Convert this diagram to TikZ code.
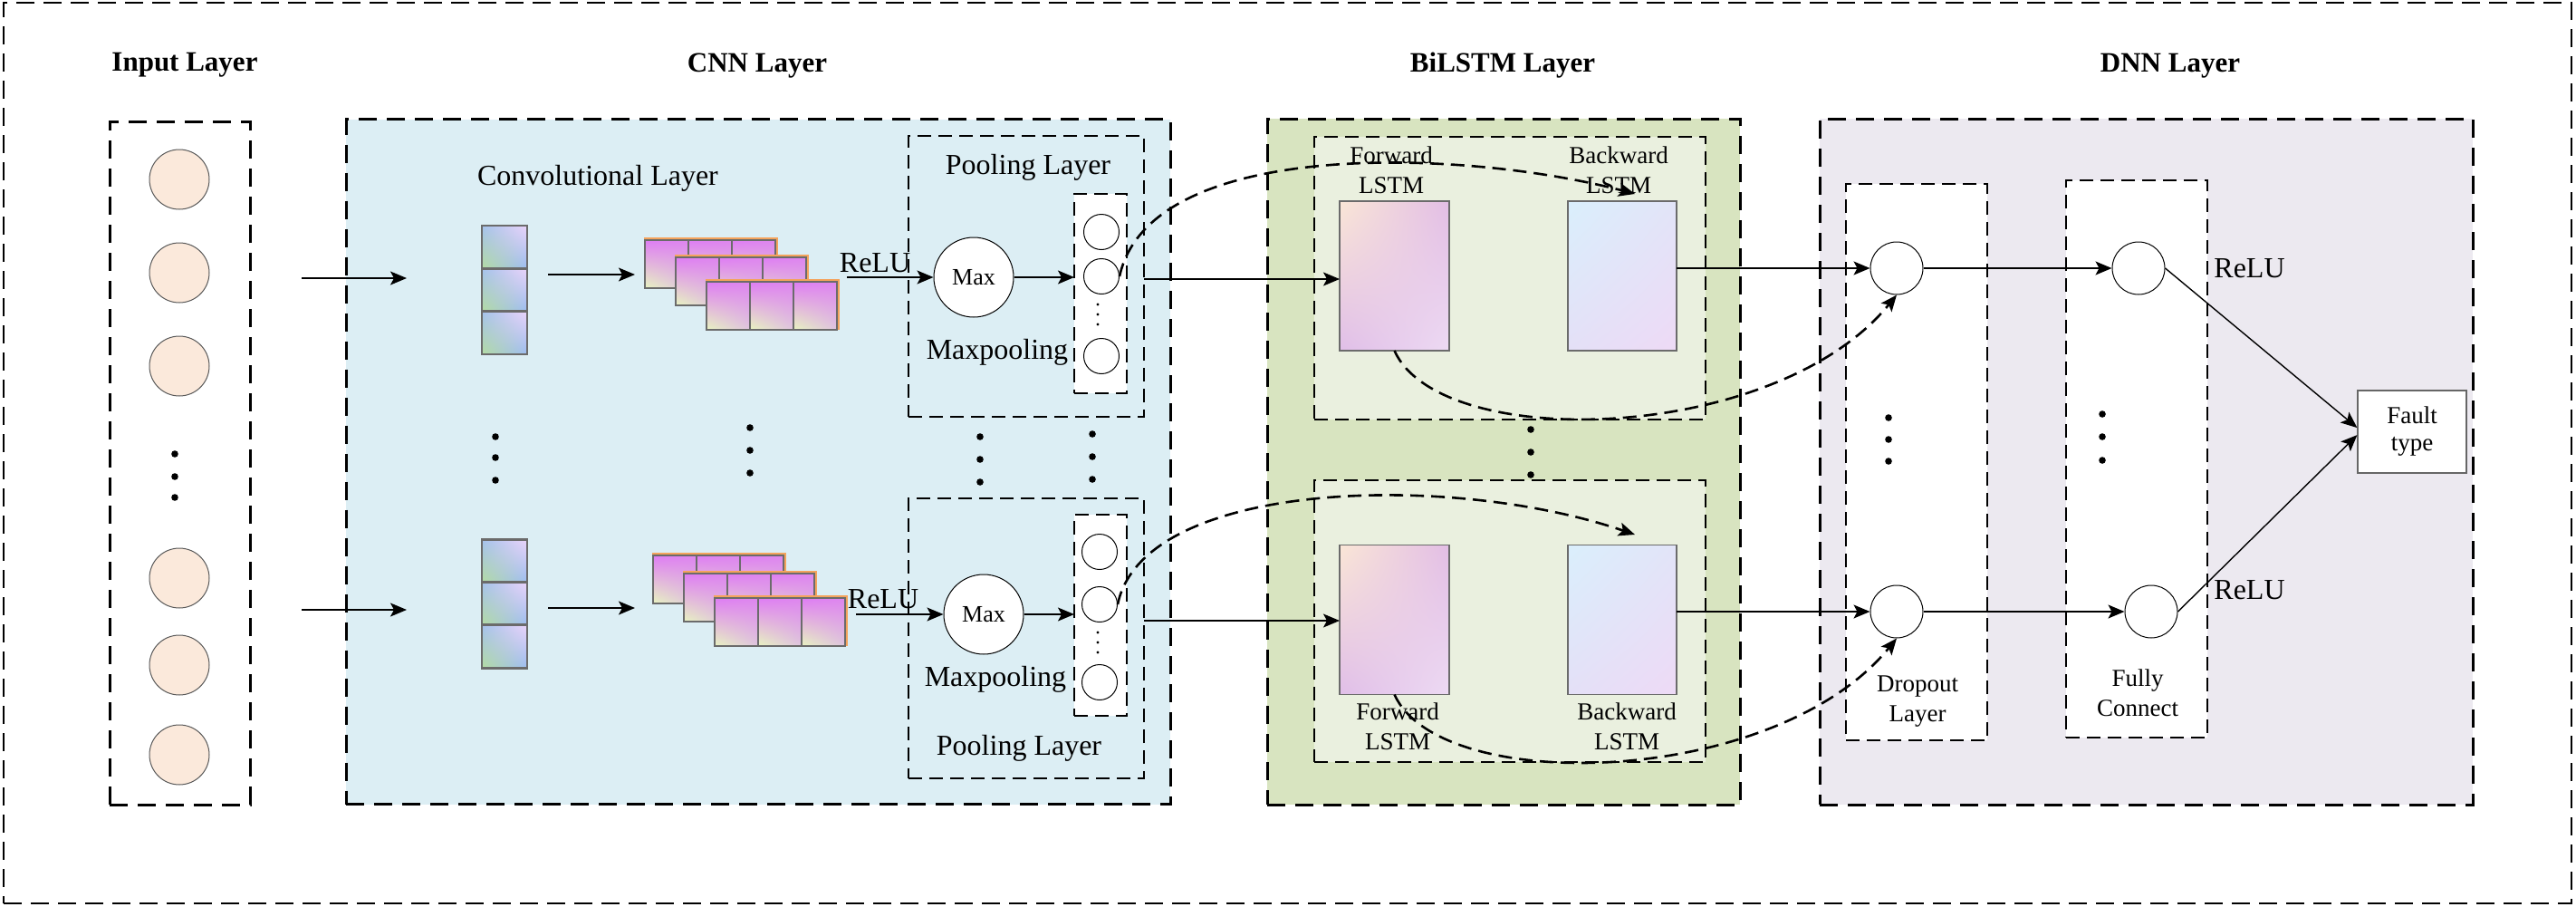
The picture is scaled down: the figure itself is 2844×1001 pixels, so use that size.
\documentclass[tikz,border=0pt]{standalone}
\usepackage{fontspec}
\setmainfont{Liberation Serif}
\usetikzlibrary{arrows.meta,shapes.geometric,shadings}
\definecolor{cnnbg}{HTML}{DCEEF4}
\definecolor{lstmouter}{HTML}{D8E4C0}
\definecolor{lstminner}{HTML}{EAF0DF}
\definecolor{dnnbg}{HTML}{ECE9F0}
\definecolor{inputfill}{HTML}{FBE9DB}
\definecolor{orangec}{HTML}{F4A35C}
\definecolor{cellgray}{HTML}{6B6B6B}
\definecolor{cvUL}{HTML}{A4C2EC}
\definecolor{cvUR}{HTML}{EBD3FA}
\definecolor{cvLL}{HTML}{B4DCA2}
\definecolor{cvLR}{HTML}{9CBCF2}
\definecolor{fmUL}{HTML}{DE7CF4}
\definecolor{fmUR}{HTML}{DE86EE}
\definecolor{fmLL}{HTML}{E8F4C0}
\definecolor{fmLR}{HTML}{DEC4DE}
\definecolor{fwUL}{HTML}{FAE6D6}
\definecolor{fwUR}{HTML}{E2BDE5}
\definecolor{fwLL}{HTML}{E0BEE8}
\definecolor{fwLR}{HTML}{EDDAF3}
\definecolor{bwUL}{HTML}{DAEFFC}
\definecolor{bwUR}{HTML}{E2E4F8}
\definecolor{bwLL}{HTML}{E4E0F7}
\definecolor{bwLR}{HTML}{EEDAF6}
\begin{document}
\begin{tikzpicture}[x=0.5pt,y=-0.5pt,
  framebox/.style={draw=black, line width=1pt, dash pattern=on 10pt off 5pt, inner sep=0, outer sep=0},
  bigbox/.style={draw=black, line width=1.5pt, dash pattern=on 10pt off 5.5pt, inner sep=0, outer sep=0},
  smallbox/.style={draw=black, line width=1pt, dash pattern=on 7.5pt off 4pt, inner sep=0, outer sep=0},
  title/.style={font=\fontsize{15.5}{18}\selectfont\bfseries, inner sep=0, anchor=base},
  lab/.style={font=\fontsize{16}{19}\selectfont, inner sep=0, anchor=base},
  small/.style={font=\fontsize{13.5}{16.5}\selectfont, inner sep=0, align=center},
  inc/.style={circle, draw=gray!70!black, line width=0.5pt, fill=inputfill, minimum size=33pt, inner sep=0},
  neuron/.style={circle, draw=black, line width=0.5pt, fill=white, inner sep=0},
  conn/.style={draw=black, line width=0.7pt, -{Stealth[length=9pt,width=7.5pt,inset=2pt]}},
  dconn/.style={draw=black, line width=1.3pt, dash pattern=on 7.5pt off 4pt, -{Stealth[length=9pt,width=7.5pt,inset=2pt]}},
  convcell/.style={rectangle, draw=cellgray, line width=1.4pt, minimum width=25pt, minimum height=23.65pt, inner sep=0, outer sep=0,
    upper left=cvUL, upper right=cvUR, lower left=cvLL, lower right=cvLR},
  fmcell/.style={rectangle, draw=cellgray, line width=0.8pt, minimum width=24pt, minimum height=26.5pt, inner sep=0, outer sep=0,
    upper left=fmUL, upper right=fmUR, lower left=fmLL, lower right=fmLR},
  fwrect/.style={rectangle, draw=cellgray, line width=0.9pt, minimum width=60.5pt, minimum height=82.5pt, inner sep=0, outer sep=0,
    upper left=fwUL, upper right=fwUR, lower left=fwLL, lower right=fwLR},
  bwrect/.style={rectangle, draw=cellgray, line width=0.9pt, minimum width=60pt, minimum height=82.5pt, inner sep=0, outer sep=0,
    upper left=bwUL, upper right=bwUR, lower left=bwLL, lower right=bwLR},
  dotf/.style={fill=black}
]
\useasboundingbox (0,0) rectangle (2844,1001);

% ---------- frames ----------
\node[framebox, minimum width=1417.5pt, minimum height=497pt] (frame) at (1421.5,500) {};
\node[bigbox, fill=white, minimum width=77.5pt, minimum height=377pt] (inbox) at (198.5,511) {};
\node[bigbox, fill=cnnbg, minimum width=455pt, minimum height=378pt] (cnnbox) at (837,509.5) {};
\node[bigbox, fill=lstmouter, minimum width=261pt, minimum height=378.5pt] (lstmbox) at (1660,509.5) {};
\node[bigbox, fill=dnnbg, minimum width=360.5pt, minimum height=378.5pt] (dnnbox) at (2369.5,509.5) {};

% ---------- titles ----------
\node[title] (tin) at (204,78) {Input Layer};
\node[title] (tcnn) at (836,79) {CNN Layer};
\node[title] (tlstm) at (1659,79) {BiLSTM Layer};
\node[title] (tdnn) at (2396,79) {DNN Layer};

% ---------- input layer ----------
\node[inc] (i1) at (198,198) {};
\node[inc] (i2) at (198,301) {};
\node[inc] (i3) at (198,404) {};
\node[inc] (i4) at (198,638) {};
\node[inc] (i5) at (198,734) {};
\node[inc] (i6) at (198,833) {};
\foreach \yy in {501,526,549} \fill[dotf] (193,\yy) circle (3.8);

% ---------- CNN layer ----------
\node[lab] (convlab) at (660,204) {Convolutional Layer};
\foreach \k in {0,1,2} {
  \node[convcell] (cva-\k) at (557,{272.7+47.3*\k}) {};
  \node[convcell] (cvb-\k) at (557,{619.5+47*\k}) {};
}
\foreach \yy in {482,505,530} \fill[dotf] (547,\yy) circle (3.8);
\foreach \yy in {472,497,522} \fill[dotf] (828,\yy) circle (3.8);

\foreach \nm/\cx/\cy in {sa1/712/265, sa2/746/284, sa3/780/311, sb1/721/613, sb2/755/633, sb3/789/660} {
  \fill[orangec] (\cx-1,\cy-3) rectangle (\cx+147,\cy+53);
  \foreach \k in {0,1,2} \node[fmcell, anchor=north west] (\nm-\k) at (\cx+48*\k,\cy) {};
}

% pooling boxes
\node[smallbox, minimum width=130pt, minimum height=155pt] (pool1) at (1133,305) {};
\node[smallbox, minimum width=130pt, minimum height=154.5pt] (pool2) at (1133,704.5) {};
\node[lab] (pl1) at (1135,192) {Pooling Layer};
\node[lab] (pl2) at (1125,833) {Pooling Layer};
\node[lab] (mp1) at (1101,396) {Maxpooling};
\node[lab] (mp2) at (1099,757) {Maxpooling};
\node[lab] (relu1) at (966,300) {ReLU};
\node[lab] (relu2) at (975,671) {ReLU};
\node[neuron, minimum size=44pt, font=\fontsize{13}{15}\selectfont] (max1) at (1075,306) {Max};
\node[neuron, minimum size=44pt, font=\fontsize{13}{15}\selectfont] (max2) at (1086,678) {Max};
\node[smallbox, fill=white, minimum width=29pt, minimum height=110pt] (col1) at (1215,324) {};
\node[smallbox, fill=white, minimum width=29pt, minimum height=111pt] (col2) at (1215,679) {};
\node[neuron, minimum size=19.5pt] (cpa1) at (1216,256) {};
\node[neuron, minimum size=19.5pt] (cpa2) at (1216,305) {};
\node[neuron, minimum size=19.5pt] (cpa3) at (1216,393) {};
\node[neuron, minimum size=19.5pt] (cpb1) at (1214,609) {};
\node[neuron, minimum size=19.5pt] (cpb2) at (1214,667) {};
\node[neuron, minimum size=19.5pt] (cpb3) at (1214,753) {};
\foreach \yy in {336,347,358} \fill[dotf] (1212,\yy) circle (1.6);
\foreach \yy in {698,709,720} \fill[dotf] (1212,\yy) circle (1.6);
\foreach \yy in {482,507,532} \fill[dotf] (1082,\yy) circle (3.8);
\foreach \yy in {479,504,529} \fill[dotf] (1206,\yy) circle (3.8);

% ---------- BiLSTM layer ----------
\node[smallbox, fill=lstminner, minimum width=216pt, minimum height=156pt] (lin1) at (1667,307) {};
\node[smallbox, fill=lstminner, minimum width=216pt, minimum height=155.5pt] (lin2) at (1667,685.5) {};
\node[fwrect] (fw1) at (1539.5,304.5) {};
\node[bwrect] (bw1) at (1791,304.5) {};
\node[fwrect] (fw2) at (1539.5,684) {};
\node[bwrect] (bw2) at (1791,684) {};
\node[small] (fwl1) at (1536,188) {Forward\\LSTM};
\node[small] (bwl1) at (1787,188) {Backward\\LSTM};
\node[small] (fwl2) at (1543,802) {Forward\\LSTM};
\node[small] (bwl2) at (1796,802) {Backward\\LSTM};
\foreach \yy in {474,499,524} \fill[dotf] (1690,\yy) circle (3.8);

% ---------- DNN layer ----------
\node[smallbox, fill=white, minimum width=78pt, minimum height=307pt] (dropbox) at (2116,510) {};
\node[smallbox, fill=white, minimum width=78pt, minimum height=307.5pt] (fullbox) at (2359,506.5) {};
\node[neuron, minimum size=29pt] (dn1) at (2094,296) {};
\node[neuron, minimum size=29pt] (dn2) at (2094,675) {};
\node[neuron, minimum size=29pt] (fc1) at (2361,296) {};
\node[neuron, minimum size=29pt] (fc2) at (2375,675) {};
\foreach \yy in {461,485,509} \fill[dotf] (2085,\yy) circle (3.8);
\foreach \yy in {457,482,508} \fill[dotf] (2321,\yy) circle (3.8);
\node[small] (droplab) at (2117,774) {Dropout\\Layer};
\node[small] (fulllab) at (2360,765) {Fully\\Connect};
\node[lab, anchor=base west] (relu3) at (2444,306) {ReLU};
\node[lab, anchor=base west] (relu4) at (2444,661) {ReLU};
\node[draw=gray!80!black, line width=0.6pt, fill=white, minimum width=60pt, minimum height=45.5pt, inner sep=0,
      font=\fontsize{13.5}{15}\selectfont, align=center] (fault) at (2663,476.5) {Fault\\type};

% ---------- connectors ----------
\coordinate (ina) at (333,307);
\coordinate (inaE) at (449,307);
\coordinate (inb) at (333,673);
\coordinate (inbE) at (449,673);
\draw[conn] (ina) -- (inaE);
\draw[conn] (inb) -- (inbE);

\coordinate (cva) at (605,303);
\coordinate (cvaE) at (701,303);
\coordinate (cvb) at (605,671);
\coordinate (cvbE) at (701,671);
\draw[conn] (cva) -- (cvaE);
\draw[conn] (cvb) -- (cvbE);

\coordinate (rla) at (935,306);
\coordinate (rlb) at (945,678);
\draw[conn] (rla) -- (max1.west);
\draw[conn] (rlb) -- (max2.west);
\draw[conn] (max1.east) -- (col1.west |- max1.east);
\draw[conn] (max2.east) -- (col2.west |- max2.east);

\coordinate (poa) at (1263,308);
\coordinate (pob) at (1263,685);
\draw[conn] (poa) -- (fw1.west |- poa);
\draw[conn] (pob) -- (fw2.west |- pob);

\draw[conn] (bw1.east |- dn1) -- (dn1.west);
\draw[conn] (bw2.east |- dn2) -- (dn2.west);
\draw[conn] (dn1.east) -- (fc1.west);
\draw[conn] (dn2.east) -- (fc2.west);
\draw[conn] (fc1.east) -- ([yshift=2.2pt]fault.west);
\draw[conn] (fc2.east) -- ([yshift=-1.8pt]fault.west);

% dashed curves
\coordinate (bw1in) at (1805,214);
\coordinate (bw2in) at (1805,590);
\draw[dconn] (cpa2.east) .. controls (1270,150) and (1620,165) .. (bw1in);
\draw[dconn] (cpb2.east) .. controls (1262,530) and (1600,520) .. (bw2in);
\draw[dconn] (fw1.south) .. controls (1590,500) and (1960,490) .. (dn1.south);
\draw[dconn] (fw2.south) .. controls (1590,879) and (1960,869) .. (dn2.south);
\end{tikzpicture}
\end{document}
